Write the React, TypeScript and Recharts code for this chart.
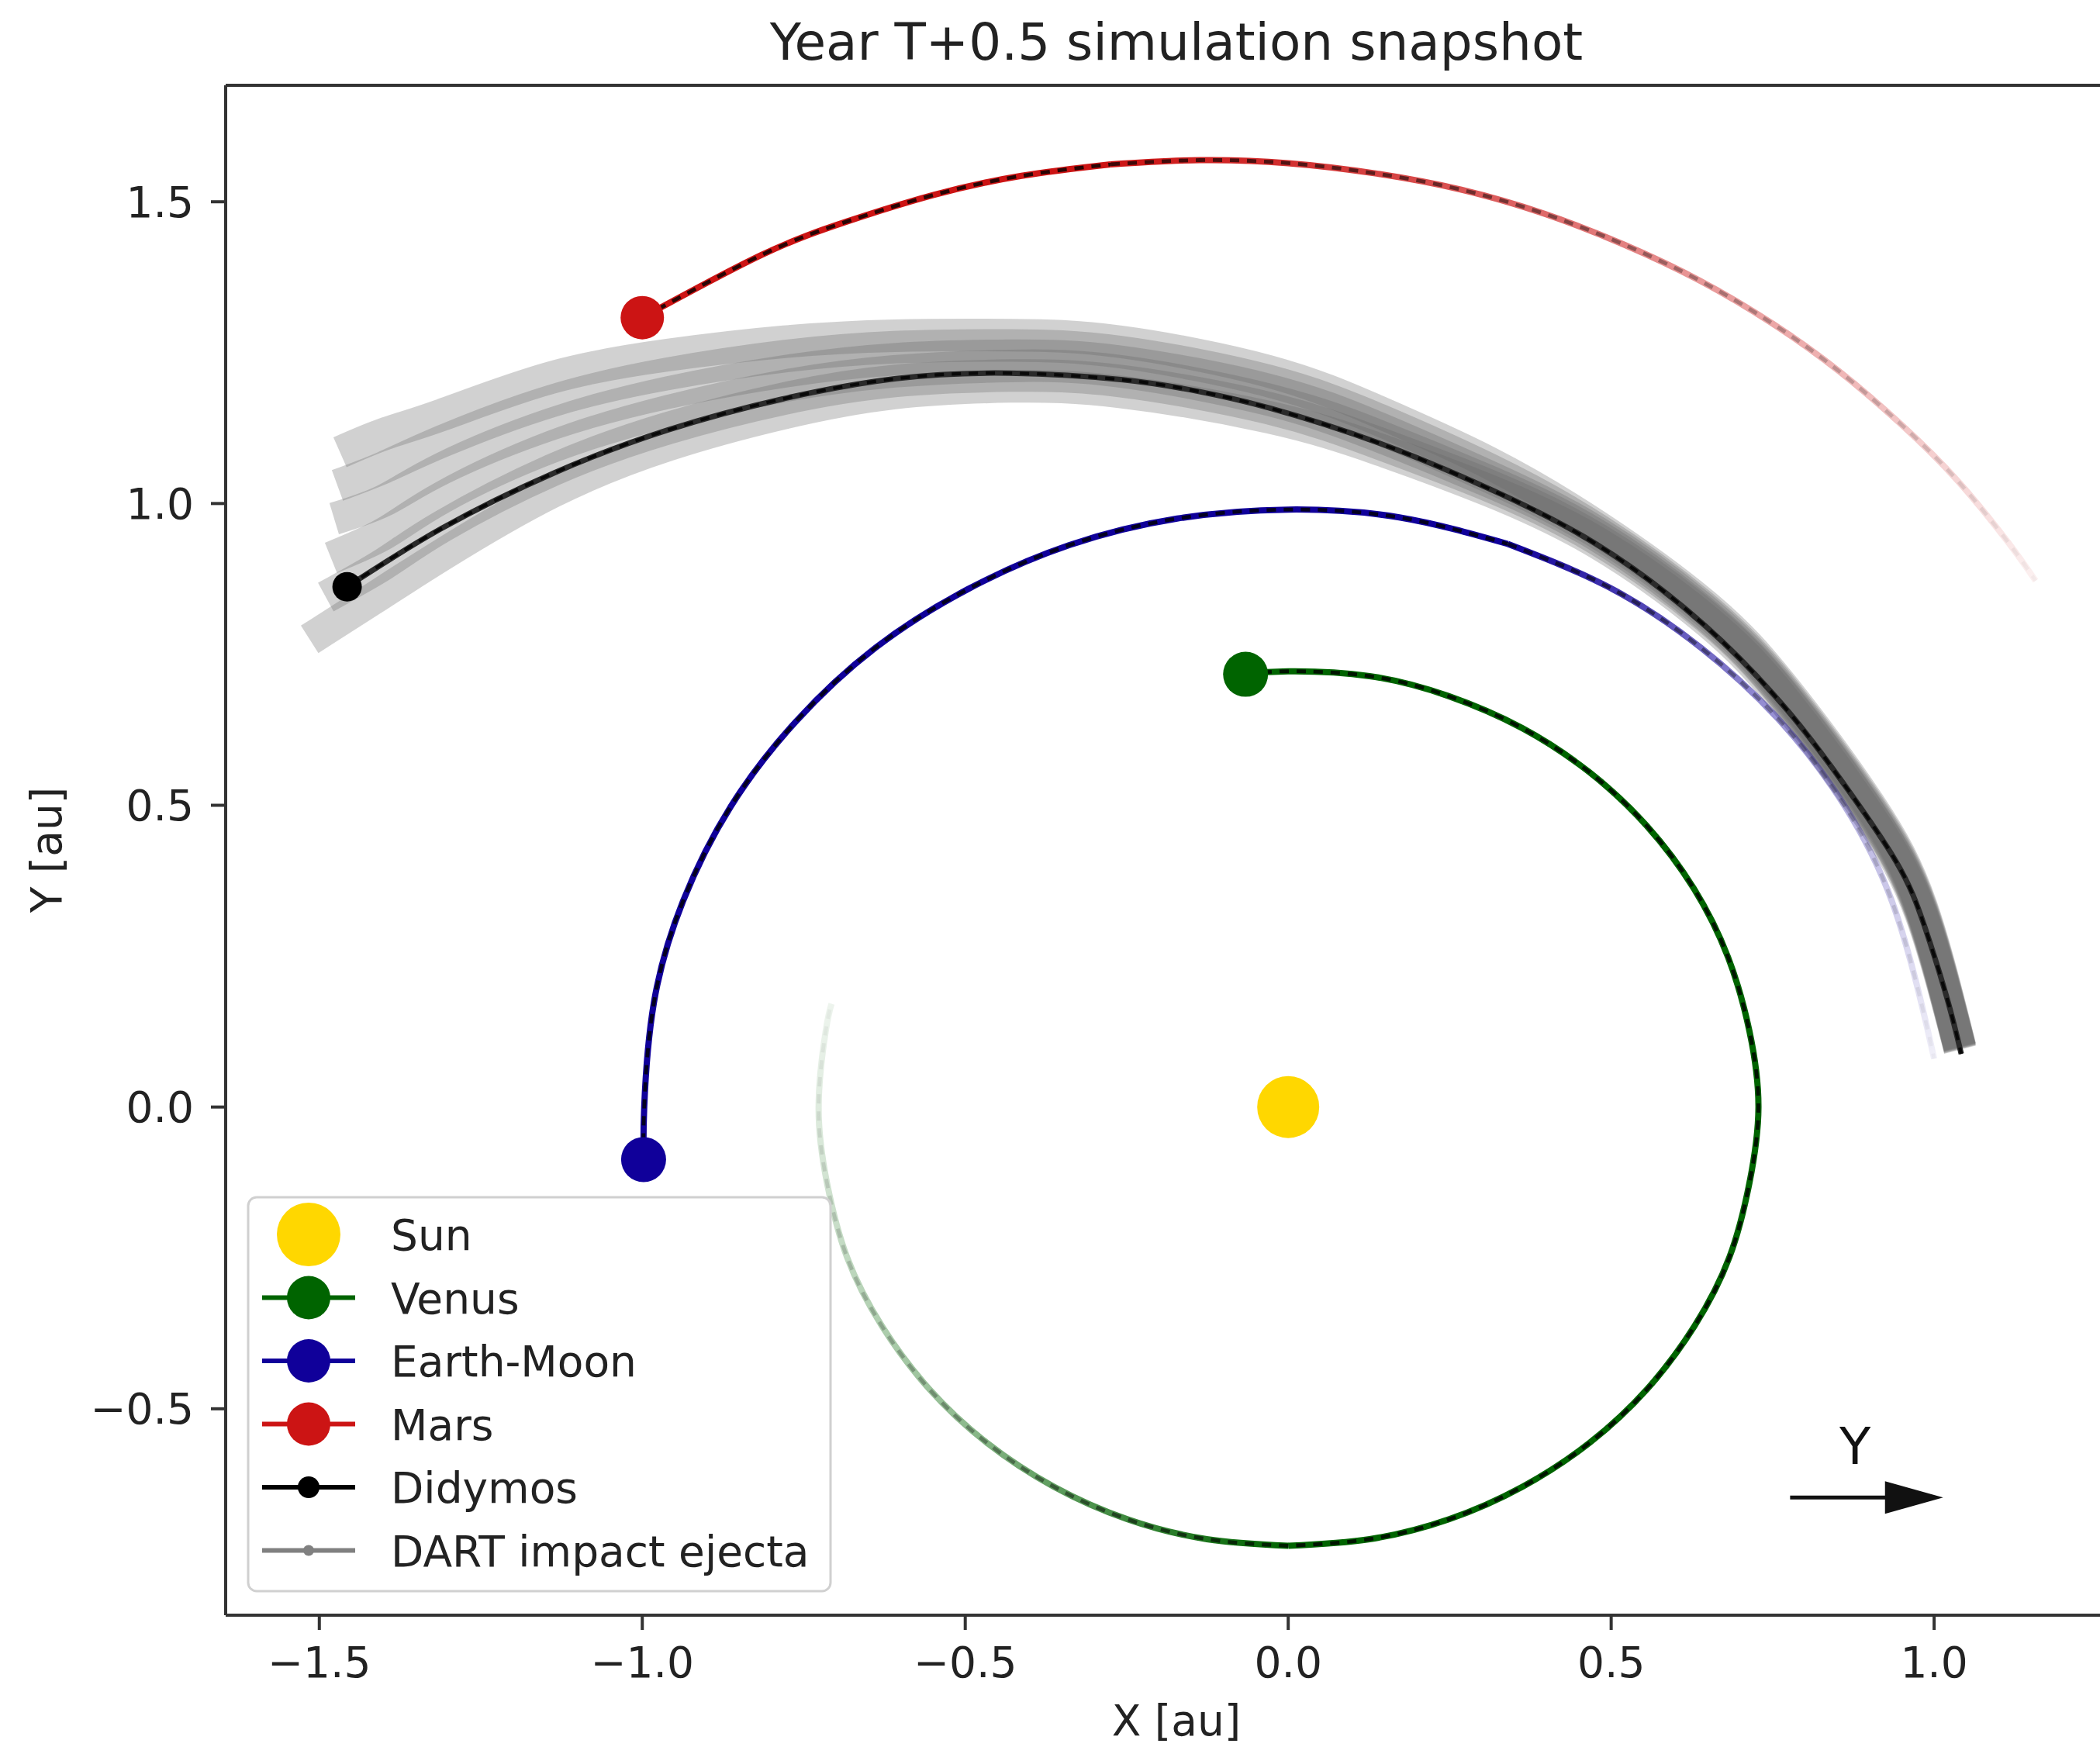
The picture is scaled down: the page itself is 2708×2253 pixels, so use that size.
import React from 'react';
import { ScatterChart, Scatter, XAxis, YAxis, ReferenceLine } from 'recharts';

type Pt = { x: number; y: number };

const xTicks = [-1.5, -1.0, -0.5, 0.0, 0.5, 1.0];
const yTicks = [-0.5, 0.0, 0.5, 1.0, 1.5];

const bodyNames = ['Sun', 'Venus', 'Earth-Moon', 'Mars', 'Didymos', 'DART impact ejecta'];

// current positions [x, y] in au
const sunPos = [[0, 0]];
const venusPos = [[-0.066, 0.717]];
const earthPos = [[-0.998, -0.087]];
const marsPos = [[-1.0, 1.308]];
const didymosPos = [[-1.457, 0.862]];

// trails, newest point first
const venusTrail = [
  [-0.066, 0.717], [0, 0.722], [0.126, 0.714], [0.248, 0.681], [0.362, 0.628], [0.466, 0.555],
  [0.555, 0.466], [0.628, 0.362], [0.681, 0.248], [0.714, 0.126], [0.728, 0], [0.714, -0.126],
  [0.683, -0.249], [0.629, -0.363], [0.556, -0.467], [0.467, -0.556], [0.363, -0.629], [0.249, -0.683],
  [0.126, -0.716], [0, -0.727], [-0.126, -0.716], [-0.249, -0.683], [-0.363, -0.629], [-0.467, -0.556],
  [-0.556, -0.467], [-0.629, -0.363], [-0.683, -0.249], [-0.714, -0.126], [-0.727, 0], [-0.716, 0.126],
  [-0.707, 0.171],
];
const earthTrail = [
  [-0.998, -0.087], [-0.997, 0], [-0.982, 0.173], [-0.937, 0.341], [-0.863, 0.498], [-0.762, 0.639],
  [-0.639, 0.761], [-0.496, 0.858], [-0.339, 0.931], [-0.172, 0.975], [0, 0.99], [0.172, 0.977],
  [0.34, 0.933], [0.497, 0.861], [0.639, 0.761], [0.762, 0.639], [0.862, 0.498], [0.935, 0.34],
  [0.98, 0.173], [1.0, 0.08],
];
const marsTrail = [
  [-1.0, 1.308], [-0.815, 1.412], [-0.684, 1.467], [-0.55, 1.511], [-0.413, 1.543], [-0.275, 1.562],
  [-0.137, 1.569], [0, 1.564], [0.135, 1.547], [0.268, 1.52], [0.397, 1.48], [0.52, 1.429],
  [0.638, 1.369], [0.75, 1.298], [0.853, 1.219], [0.949, 1.131], [1.037, 1.037], [1.115, 0.935],
  [1.157, 0.872],
];
const didymosTrail = [
  [-1.457, 0.862], [-1.312, 0.958], [-1.136, 1.051], [-0.96, 1.122], [-0.784, 1.173], [-0.607, 1.207],
  [-0.432, 1.216], [-0.256, 1.205], [-0.14, 1.186], [-0.028, 1.158], [0.141, 1.1], [0.31, 1.025],
  [0.478, 0.932], [0.646, 0.797], [0.773, 0.657], [0.857, 0.54], [0.941, 0.407], [0.985, 0.3],
  [1.02, 0.18], [1.042, 0.088],
];

// ejecta band, read as six streaks from lowest to highest
const ejectaA = [
  [-1.515, 0.775], [-1.42, 0.84], [-1.31, 0.915], [-1.14, 1.019], [-0.96, 1.097], [-0.78, 1.15],
  [-0.61, 1.183], [-0.43, 1.194], [-0.26, 1.185], [-0.03, 1.143], [0.14, 1.09], [0.31, 1.022],
  [0.48, 0.934], [0.65, 0.804], [0.77, 0.671], [0.9, 0.481], [0.98, 0.318], [1.04, 0.095],
];
const ejectaB = [
  [-1.49, 0.845], [-1.4, 0.9], [-1.31, 0.962], [-1.14, 1.055], [-0.96, 1.125], [-0.78, 1.174],
  [-0.61, 1.203], [-0.43, 1.212], [-0.26, 1.203], [-0.03, 1.158], [0.14, 1.1], [0.31, 1.03],
  [0.48, 0.94], [0.65, 0.81], [0.77, 0.677], [0.9, 0.487], [0.98, 0.322], [1.04, 0.096],
];
const ejectaC = [
  [-1.482, 0.91], [-1.4, 0.95], [-1.31, 1.01], [-1.14, 1.094], [-0.96, 1.153], [-0.78, 1.195],
  [-0.61, 1.219], [-0.43, 1.228], [-0.26, 1.219], [-0.03, 1.172], [0.14, 1.112], [0.31, 1.037],
  [0.48, 0.946], [0.65, 0.813], [0.77, 0.679], [0.9, 0.489], [0.98, 0.324], [1.04, 0.097],
];
const ejectaD = [
  [-1.477, 0.975], [-1.4, 1.005], [-1.31, 1.058], [-1.14, 1.132], [-0.96, 1.184], [-0.78, 1.219],
  [-0.61, 1.239], [-0.43, 1.245], [-0.26, 1.235], [-0.03, 1.188], [0.14, 1.125], [0.31, 1.045],
  [0.48, 0.951], [0.65, 0.818], [0.77, 0.683], [0.9, 0.493], [0.98, 0.327], [1.04, 0.098],
];
const ejectaE = [
  [-1.472, 1.03], [-1.4, 1.06], [-1.31, 1.103], [-1.14, 1.17], [-0.96, 1.215], [-0.78, 1.244],
  [-0.61, 1.259], [-0.43, 1.262], [-0.26, 1.251], [-0.03, 1.203], [0.14, 1.139], [0.31, 1.057],
  [0.48, 0.956], [0.65, 0.822], [0.77, 0.687], [0.9, 0.497], [0.98, 0.33], [1.04, 0.099],
];
const ejectaF = [
  [-1.468, 1.085], [-1.4, 1.115], [-1.31, 1.147], [-1.14, 1.209], [-0.96, 1.246], [-0.78, 1.268],
  [-0.61, 1.278], [-0.43, 1.279], [-0.26, 1.268], [-0.03, 1.219], [0.14, 1.152], [0.31, 1.068],
  [0.48, 0.961], [0.65, 0.827], [0.77, 0.691], [0.9, 0.501], [0.98, 0.333], [1.04, 0.1],
];

// arrow annotation ends, data units
const arrowFrom = [0.777, -0.647];
const arrowTo = [1.014, -0.647];

const FONT = 'DejaVu Sans';
const TEXT = '#222';
const SUN = '#FFD700';
const VENUS = '#006400';
const EARTH = '#10009A';
const MARS = '#CC1414';
const GRAY = '#808080';

const toPts = (rows: number[][]): Pt[] => rows.map(([x, y]) => ({ x, y }));

const fmt = (v: number) => (v < 0 ? '\u2212' : '') + Math.abs(v).toFixed(1);

const noDot = () => <g />;

const dot = (r: number, fill: string) => (p: any) => <circle cx={p.cx} cy={p.cy} r={r} fill={fill} />;

// solid newest part + older part faded with a gradient along the arc
function trail(id: string, rows: number[][], color: string, width: number, fadeFrom: number) {
  const parts = fadeFrom < rows.length - 1
    ? [{ rows: rows.slice(0, fadeFrom + 1), fade: false }, { rows: rows.slice(fadeFrom), fade: true }]
    : [{ rows, fade: false }];
  const out: React.ReactElement[] = [];
  parts.forEach((p, k) => {
    const data = toPts(p.rows);
    out.push(
      <Scatter key={`${id}-c${k}`} data={data} shape={noDot} lineJointType="natural" isAnimationActive={false}
        line={{ stroke: p.fade ? `url(#${id}Fade)` : color, strokeWidth: width }} />
    );
    out.push(
      <Scatter key={`${id}-d${k}`} data={data} shape={noDot} lineJointType="natural" isAnimationActive={false}
        line={{ stroke: p.fade ? `url(#${id}FadeDash)` : '#000', strokeOpacity: p.fade ? 1 : 0.8,
          strokeWidth: width * 0.6, strokeDasharray: '12 10' }} />
    );
  });
  return out;
}

const fadeDefs = [
  { id: 'venus', color: VENUS, dir: [1, 1, 0, 0] },
  { id: 'earth', color: EARTH, dir: [0, 0, 1, 1] },
  { id: 'mars', color: MARS, dir: [0, 0, 1, 1] },
];

const ArrowShape = (p: any) => {
  const { x1, y1, x2 } = p;
  return (
    <g>
      <line x1={x1} y1={y1} x2={x2 - 70} y2={y1} stroke="#111" strokeWidth={5} />
      <polygon points={`${x2},${y1} ${x2 - 75},${y1 - 21} ${x2 - 75},${y1 + 21}`} fill="#111" />
      <text x={(x1 + x2) / 2 - 15} y={y1 - 43} textAnchor="middle" fontSize={66} fontFamily={FONT} fill="#111">Y</text>
    </g>
  );
};

const legendStyle = [
  { color: SUN, r: 41, line: false },
  { color: VENUS, r: 28, line: true },
  { color: EARTH, r: 28, line: true },
  { color: MARS, r: 28, line: true },
  { color: '#000', r: 14, line: true },
  { color: GRAY, r: 7, line: true },
];

const App: React.FC = () => {
  const tickStyle = { fontSize: 55, fill: TEXT, fontFamily: FONT };
  const axisStroke = { stroke: '#333', strokeWidth: 4 };
  return (
    <div style={{ position: 'fixed', left: 0, top: 0, width: 2708, height: 2253, overflow: 'hidden', background: '#fff' }}>
      <svg width={0} height={0} style={{ position: 'absolute' }}>
        <defs>
          {fadeDefs.map(f => (
            <React.Fragment key={f.id}>
              <linearGradient id={`${f.id}Fade`} x1={f.dir[0]} y1={f.dir[1]} x2={f.dir[2]} y2={f.dir[3]}>
                <stop offset="0%" stopColor={f.color} stopOpacity={1} />
                <stop offset="45%" stopColor={f.color} stopOpacity={0.45} />
                <stop offset="100%" stopColor={f.color} stopOpacity={0.06} />
              </linearGradient>
              <linearGradient id={`${f.id}FadeDash`} x1={f.dir[0]} y1={f.dir[1]} x2={f.dir[2]} y2={f.dir[3]}>
                <stop offset="0%" stopColor="#000" stopOpacity={0.7} />
                <stop offset="45%" stopColor="#000" stopOpacity={0.3} />
                <stop offset="100%" stopColor="#000" stopOpacity={0.03} />
              </linearGradient>
            </React.Fragment>
          ))}
        </defs>
      </svg>

      <ScatterChart width={2800} height={2253} margin={{ top: 110, right: 56, bottom: 0, left: 0 }}>
        <XAxis type="number" dataKey="x" domain={[-1.645, 1.3]} allowDataOverflow ticks={xTicks} interval={0}
          tickFormatter={fmt} height={170} tick={tickStyle} tickSize={19} tickMargin={22}
          axisLine={axisStroke} tickLine={axisStroke} />
        <YAxis type="number" dataKey="y" domain={[-0.842, 1.693]} allowDataOverflow ticks={yTicks} interval={0}
          tickFormatter={fmt} width={291} tick={tickStyle} tickSize={19} tickMargin={22}
          axisLine={axisStroke} tickLine={axisStroke} />
        <ReferenceLine y={1.693} ifOverflow="visible" stroke="#333" strokeWidth={4} />

        {[ejectaA, ejectaB, ejectaC, ejectaD, ejectaE, ejectaF].map((rows, i) => (
          <Scatter key={`ej${i}`} data={toPts(rows)} shape={noDot} lineJointType="natural" isAnimationActive={false}
            line={{ stroke: '#666', strokeWidth: 42, strokeOpacity: 0.3 }} />
        ))}

        {trail('venus', venusTrail, VENUS, 8, 19)}
        {trail('earth', earthTrail, EARTH, 8, 12)}
        {trail('mars', marsTrail, MARS, 8, 5)}
        {trail('didy', didymosTrail, '#2a2a2a', 7, didymosTrail.length)}

        <Scatter data={toPts(sunPos)} shape={dot(40, SUN)} isAnimationActive={false} />
        <Scatter data={toPts(venusPos)} shape={dot(29, VENUS)} isAnimationActive={false} />
        <Scatter data={toPts(earthPos)} shape={dot(29, EARTH)} isAnimationActive={false} />
        <Scatter data={toPts(marsPos)} shape={dot(28, MARS)} isAnimationActive={false} />
        <Scatter data={toPts(didymosPos)} shape={dot(19, '#000')} isAnimationActive={false} />

        <ReferenceLine segment={[{ x: arrowFrom[0], y: arrowFrom[1] }, { x: arrowTo[0], y: arrowTo[1] }]}
          ifOverflow="visible" shape={ArrowShape} />
      </ScatterChart>

      <svg width={2708} height={2253} style={{ position: 'absolute', left: 0, top: 0, pointerEvents: 'none' }}>
        <text x={1517} y={77} textAnchor="middle" fontSize={66} fontFamily={FONT} fill={TEXT}>
          Year T+0.5 simulation snapshot
        </text>
        <text x={1517} y={2238} textAnchor="middle" fontSize={55} fontFamily={FONT} fill={TEXT}>X [au]</text>
        <text x={79} y={1096} transform="rotate(-90 79 1096)" textAnchor="middle" fontSize={55} fontFamily={FONT} fill={TEXT}>
          Y [au]
        </text>

        <rect x={320} y={1544} width={751} height={508} rx={11} fill="#fff" fillOpacity={0.8} stroke="#d0d0d0" strokeWidth={3} />
        {bodyNames.map((name, i) => {
          const s = legendStyle[i];
          const cy = 1592 + i * 81.5;
          return (
            <g key={name}>
              {s.line && <line x1={338} x2={458} y1={cy} y2={cy} stroke={s.color} strokeWidth={6} />}
              <circle cx={398} cy={cy} r={s.r} fill={s.color} />
              <text x={504} y={cy + 20} fontSize={55} fontFamily={FONT} fill={TEXT}>{name}</text>
            </g>
          );
        })}
      </svg>
    </div>
  );
};

export default App;
